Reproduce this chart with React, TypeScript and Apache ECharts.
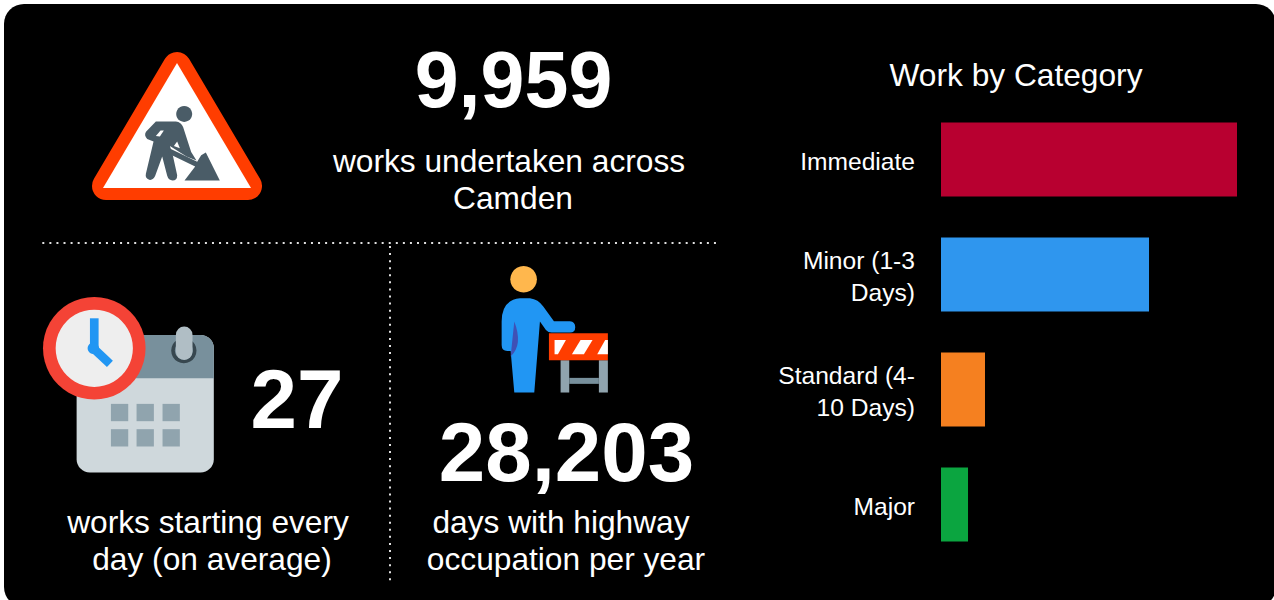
import React, { useEffect, useRef } from "react";
import * as echarts from "echarts";

const categories = ["Immediate", "Minor (1-3\nDays)", "Standard (4-\n10 Days)", "Major"];
const values = [5127, 3603, 762, 468];
const barColors = ["#b80030", "#2f96ee", "#f58020", "#0ba540"];
const FONT = '"Liberation Sans", Arial, sans-serif';

echarts.graphic.registerShape("worker", echarts.graphic.extendPath(
  "M378 275 L438 275 Q454 277 460 292 L484 366 L500 392 L470 380 L420 348 L428 372 L442 436 Q442 452 428 452 Q416 452 412 438 L397 380 L376 438 Q370 452 358 450 Q345 446 348 432 L371 335 L352 327 Q341 316 349 305 Z", {}));
echarts.graphic.registerShape("shovel", echarts.graphic.extendPath(
  "M420 356 L502 396 L514 376 L528 368 L570 452 L464 452 L496 410 L414 370 Z", {}));
echarts.graphic.registerShape("person", echarts.graphic.extendPath(
  "M120 145 L150 145 Q175 148 190 170 L222 214 L270 214 Q286 216 286 232 Q286 248 270 248 L215 248 Q205 248 198 240 L180 215 L163 428 L103 428 L92 303 L82 303 Q65 303 65 285 L65 215 Q65 150 120 145 Z", {}));
echarts.graphic.registerShape("shade", echarts.graphic.extendPath(
  "M103 215 Q130 285 92 320 Z", {}));

const txt = (text: string, x: number, y: number, size: number, bold = false) => ({
  type: "text", x, y,
  style: { text, fill: "#ffffff", font: `${bold ? "bold " : ""}${size}px ${FONT}`, textAlign: "center", textVerticalAlign: "middle" },
});
const rect = (x: number, y: number, w: number, h: number, fill: string, r: any = 0) => ({
  type: "rect", shape: { x, y, width: w, height: h, r }, style: { fill },
});
const circle = (cx: number, cy: number, r: number, fill: string) => ({
  type: "circle", shape: { cx, cy, r }, style: { fill },
});
const poly = (points: number[][], fill: string) => ({
  type: "polygon", shape: { points }, style: { fill },
});
const dotted = (x1: number, y1: number, x2: number, y2: number) => ({
  type: "line", shape: { x1, y1, x2, y2 },
  style: { stroke: "#e0e0e0", lineWidth: 2, lineDash: [2, 5.07] },
});
const icon = (x: number, y: number, children: any[]) => ({
  type: "group", x, y, scaleX: 1 / 3, scaleY: 1 / 3, children,
});

const sign = {
  type: "group",
  children: [
    { type: "polygon", shape: { points: [[177, 66], [248, 186], [106, 186]] }, style: { fill: "#ff3d00", stroke: "#ff3d00", lineWidth: 28, lineJoin: "round" } },
    poly([[177, 63], [251, 188], [103, 188]], "#ffffff"),
    icon(30, 30, [
      circle(463, 252, 24, "#4a5c67"),
      { type: "worker", style: { fill: "#4a5c67" } },
      { type: "shovel", style: { fill: "#4a5c67" } },
      poly([[378, 318], [392, 302], [402, 302], [390, 320]], "#ffffff"),
      poly([[432, 348], [442, 335], [450, 355]], "#ffffff"),
    ]),
  ],
};

const calendar = icon(30, 280, [
  rect(140, 165, 412, 413, "#cfd8dc", 40),
  rect(140, 165, 412, 130, "#78909c", [40, 40, 0, 0]),
  circle(462, 212, 38, "#37474f"),
  circle(462, 212, 27, "#78909c"),
  rect(438, 140, 50, 100, "#b0bec5", 25),
  ...[243, 320, 398].flatMap((x) => [372, 448].map((y) => rect(x, y, 52, 52, "#90a4ae"))),
  circle(193, 205, 154, "#f44336"),
  circle(193, 205, 116, "#eeeeee"),
  rect(180, 115, 26, 90, "#2196f3"),
  { type: "polyline", shape: { points: [[190, 205], [240, 252]] }, style: { stroke: "#2196f3", lineWidth: 26, fill: "none" } },
  circle(190, 205, 17, "#2196f3"),
]);

const barrier = icon(480, 250, [
  circle(131, 88, 40, "#ffb74d"),
  { type: "person", style: { fill: "#2196f3" } },
  { type: "shade", style: { fill: "#3f51b5" } },
  rect(242, 331, 26, 97, "#90a4ae"),
  rect(357, 331, 27, 97, "#90a4ae"),
  rect(268, 384, 89, 18, "#78909c"),
  rect(207, 250, 177, 81, "#ff3d00"),
  poly([[224, 270], [258, 270], [234, 313], [224, 313]], "#ffffff"),
  poly([[302, 270], [338, 270], [312, 313], [276, 313]], "#ffffff"),
  poly([[376, 270], [384, 270], [384, 313], [352, 313]], "#ffffff"),
]);

export default function App() {
  const ref = useRef<HTMLDivElement>(null);
  useEffect(() => {
    document.body.style.margin = "0";
    document.body.style.background = "#ffffff";
    const chart = echarts.init(ref.current!, null, { renderer: "svg" });
    chart.setOption({
      animation: false,
      title: {
        text: "Work by Category", left: 1011, top: 54, textAlign: "center",
        textStyle: { color: "#ffffff", fontFamily: FONT, fontSize: 31.7, fontWeight: "normal" },
      },
      grid: { left: 941, right: 37, top: 102, height: 460 },
      xAxis: { type: "value", min: 0, max: "dataMax", show: false },
      yAxis: {
        type: "category", inverse: true, data: categories,
        axisLine: { show: false }, axisTick: { show: false },
        axisLabel: {
          margin: 26, align: "right",
          formatter: (v: string) => v.split("\n").map((l) => `{a|${l}}`).join("\n"),
          rich: { a: { color: "#ffffff", fontFamily: FONT, fontSize: 24.6, lineHeight: 32, padding: [4, 0, 0, 0] } },
        },
      },
      series: [{
        type: "bar", barWidth: 74, silent: true,
        data: values.map((value, i) => ({ value, itemStyle: { color: barColors[i] } })),
      }],
      graphic: [
        { ...rect(4, 4, 1272, 603, "#000000", 20), z: -10 },
        dotted(42.3, 243, 717, 243),
        dotted(390, 246, 390, 582),
        sign, calendar, barrier,
        txt("9,959", 513.5, 79, 79, true),
        txt("works undertaken across", 509, 161, 31.7),
        txt("Camden", 513, 198, 31.7),
        txt("27", 297, 399, 83.5, true),
        txt("works starting every", 208, 522, 31.7),
        txt("day (on average)", 212, 559, 31.7),
        txt("28,203", 566.5, 452, 83.5, true),
        txt("days with highway", 561, 522, 31.7),
        txt("occupation per year", 566, 559, 31.7),
      ],
    });
    return () => chart.dispose();
  }, []);
  return <div ref={ref} style={{ width: 1274, height: 600 }} />;
}
